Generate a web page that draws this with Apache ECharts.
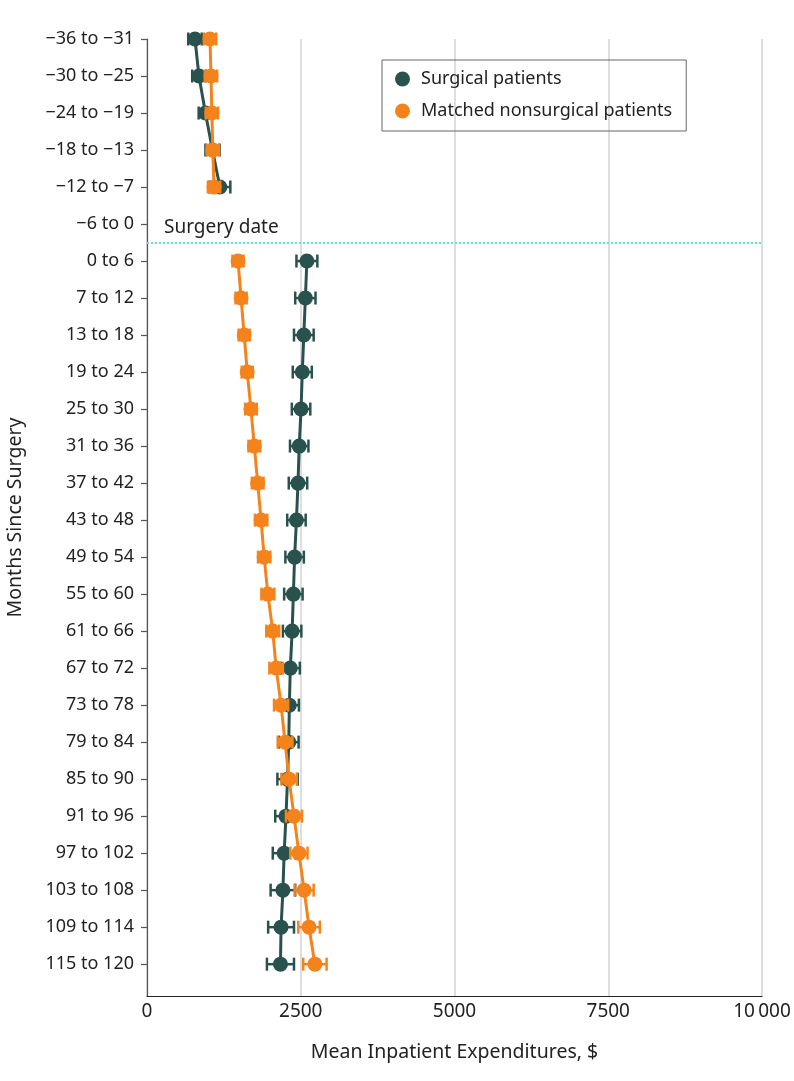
<!DOCTYPE html>
<html>
<head>
<meta charset="utf-8">
<script src="https://cdn.jsdelivr.net/npm/echarts@6/dist/echarts.min.js"></script>
<style>
  html, body { margin: 0; padding: 0; background: #fff; }
  #chart { width: 794px; height: 1081px; }
</style>
</head>
<body>
<div id="chart"></div>
<script>
// months since surgery, top to bottom
var periods = ['−36 to −31', '−30 to −25', '−24 to −19', '−18 to −13', '−12 to −7', '−6 to 0',
  '0 to 6', '7 to 12', '13 to 18', '19 to 24', '25 to 30', '31 to 36', '37 to 42', '43 to 48',
  '49 to 54', '55 to 60', '61 to 66', '67 to 72', '73 to 78', '79 to 84', '85 to 90', '91 to 96',
  '97 to 102', '103 to 108', '109 to 114', '115 to 120'];

// mean inpatient expenditures, $ ('-' = no data)
var surgical = [780, 845, 950, 1065, 1185, '-', 2600, 2575, 2550, 2525, 2505, 2475, 2455, 2430,
  2400, 2380, 2360, 2330, 2315, 2305, 2285, 2260, 2230, 2210, 2180, 2170];
var matched = [1025, 1040, 1055, 1070, 1090, '-', 1480, 1530, 1580, 1630, 1690, 1745, 1800, 1855,
  1905, 1965, 2045, 2100, 2180, 2245, 2310, 2390, 2470, 2555, 2635, 2730];

// half width of the 95% CI, $
var surgicalCI = [110, 110, 110, 115, 170, '-', 170, 165, 160, 155, 150, 150, 150, 150,
  150, 150, 150, 155, 155, 160, 165, 175, 185, 200, 210, 220];
var matchedCI = [100, 100, 100, 100, 100, '-', 90, 90, 90, 90, 95, 95, 95, 100,
  100, 105, 105, 110, 115, 120, 125, 130, 140, 155, 175, 190];

var xTicks = [0, 2500, 5000, 7500, 10000];

var surgColor = '#29524f';
var matchColor = '#f5831c';
var font = 'Noto Sans, sans-serif';

function points(vals) {
  return vals.map(function (v, i) { return [v, i]; });
}
function bars(vals, ci) {
  var out = [];
  vals.forEach(function (v, i) {
    if (v === '-') return;
    out.push([v - ci[i], v + ci[i], i]);
  });
  return out;
}
function errorBar(color) {
  return function (params, api) {
    var lo = api.coord([api.value(0), api.value(2)]);
    var hi = api.coord([api.value(1), api.value(2)]);
    var h = 6.5;
    var st = { stroke: color, lineWidth: 2.5 };
    return {
      type: 'group',
      children: [
        { type: 'line', shape: { x1: lo[0], y1: lo[1], x2: hi[0], y2: hi[1] }, style: st },
        { type: 'line', shape: { x1: lo[0], y1: lo[1] - h, x2: lo[0], y2: lo[1] + h }, style: st },
        { type: 'line', shape: { x1: hi[0], y1: hi[1] - h, x2: hi[0], y2: hi[1] + h }, style: st }
      ]
    };
  };
}

var rowIdx = periods.map(function (p, i) { return i; });

var chart = echarts.init(document.getElementById('chart'), null, { renderer: 'canvas' });
chart.setOption({
  animation: false,
  textStyle: { fontFamily: font },
  grid: { left: 147, right: 32, top: 39, bottom: 85, outerBoundsMode: 'none', containLabel: false },
  legend: {
    left: 382, top: 60,
    orient: 'vertical',
    icon: 'circle',
    itemWidth: 15, itemHeight: 15, itemGap: 14,
    padding: [10, 14, 11, 13],
    borderColor: '#666', borderWidth: 1,
    textStyle: { fontSize: 18, color: '#222', fontFamily: font, padding: [0, 0, 0, 6] },
    data: ['Surgical patients', 'Matched nonsurgical patients']
  },
  xAxis: {
    type: 'value',
    min: xTicks[0], max: xTicks[xTicks.length - 1], interval: 2500,
    name: 'Mean Inpatient Expenditures, $',
    nameLocation: 'middle', nameGap: 46,
    nameTextStyle: { fontSize: 19.5, color: '#222' },
    axisLine: { show: true, onZero: false, lineStyle: { color: '#222', width: 1.2 } },
    axisTick: { show: false },
    axisLabel: {
      fontSize: 19, color: '#222', margin: 6,
      formatter: function (v) { return v === 10000 ? '10\u2009000' : String(v); }
    },
    splitLine: { show: true, lineStyle: { color: '#d3d3d3', width: 1.5 } }
  },
  yAxis: {
    type: 'value',
    inverse: true,
    min: 0, max: 25.86, interval: 1,
    name: 'Months Since Surgery',
    nameLocation: 'middle', nameGap: 122,
    nameTextStyle: { fontSize: 19.5, color: '#222' },
    axisLine: { show: true, onZero: false, lineStyle: { color: '#555', width: 1.2 } },
    axisTick: { show: true, length: 6, customValues: rowIdx, lineStyle: { color: '#555', width: 1.2 } },
    axisLabel: {
      fontSize: 18, color: '#222', margin: 13, customValues: rowIdx,
      formatter: function (v) { return periods[v] || ''; }
    },
    splitLine: { show: false }
  },
  series: [
    {
      type: 'custom', name: 'Surgical patients', z: 2,
      renderItem: errorBar(surgColor),
      encode: { x: [0, 1], y: 2 },
      itemStyle: { color: surgColor },
      data: bars(surgical, surgicalCI)
    },
    {
      type: 'line', name: 'Surgical patients', z: 3,
      data: points(surgical),
      connectNulls: false,
      symbol: 'circle', symbolSize: 15,
      itemStyle: { color: surgColor },
      lineStyle: { color: surgColor, width: 3 },
      markLine: {
        silent: true,
        symbol: ['none', 'none'],
        data: [{ yAxis: 5.5 }],
        lineStyle: { type: 'dotted', color: '#5fdfe6', width: 2 },
        label: {
          show: true, position: 'insideStartTop', formatter: 'Surgery date',
          fontSize: 19, color: '#222', fontFamily: font, distance: [17, 5]
        }
      }
    },
    {
      type: 'custom', name: 'Matched nonsurgical patients', z: 4,
      renderItem: errorBar(matchColor),
      encode: { x: [0, 1], y: 2 },
      itemStyle: { color: matchColor },
      data: bars(matched, matchedCI)
    },
    {
      type: 'line', name: 'Matched nonsurgical patients', z: 5,
      data: points(matched),
      connectNulls: false,
      symbol: 'circle', symbolSize: 15,
      itemStyle: { color: matchColor },
      lineStyle: { color: matchColor, width: 3 }
    }
  ]
});
</script>
</body>
</html>
